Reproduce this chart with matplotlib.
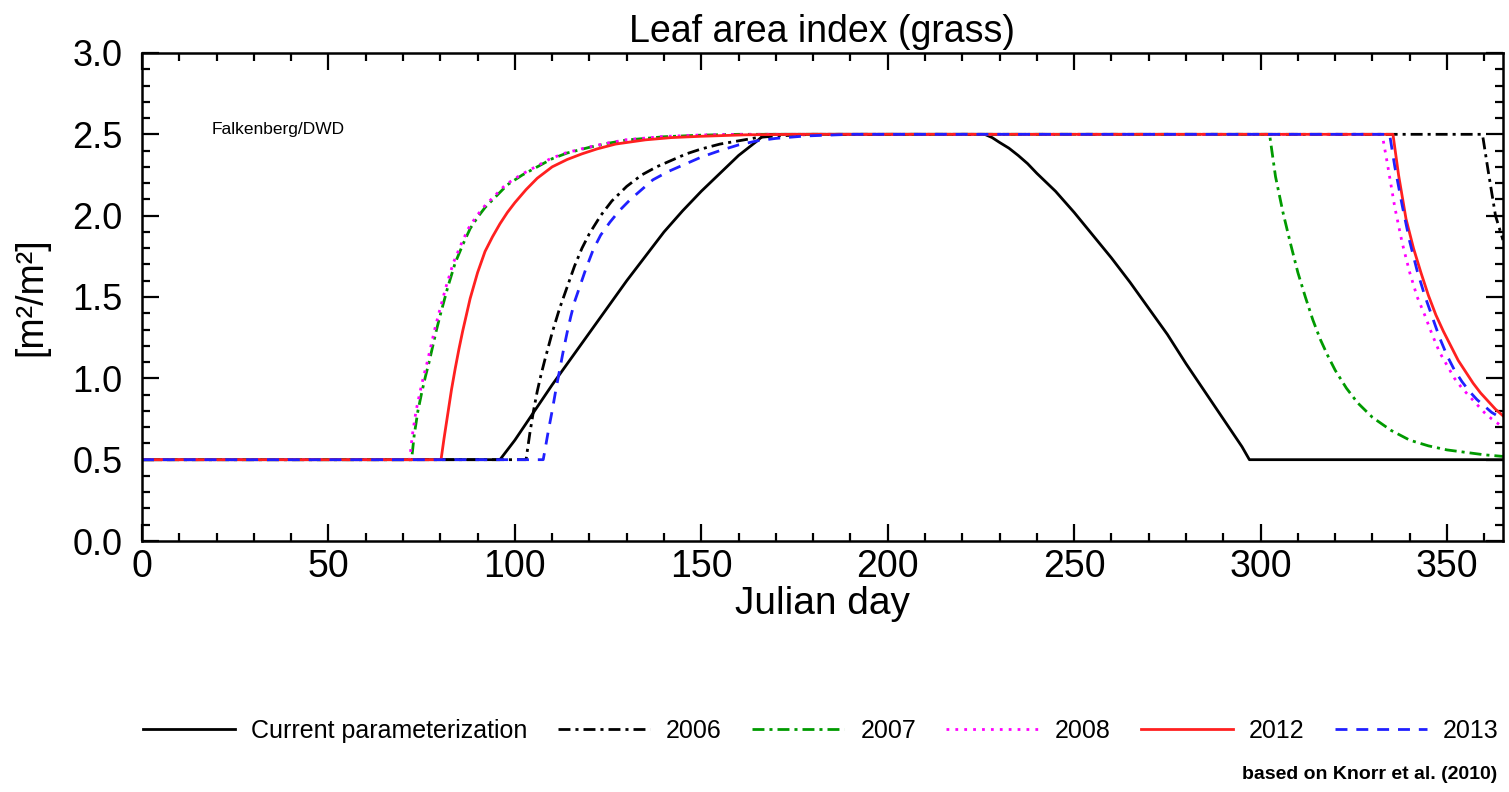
import matplotlib
matplotlib.use("Agg")
import matplotlib.pyplot as plt
from matplotlib.ticker import MultipleLocator

plt.rcParams['font.family'] = ['Liberation Sans', 'DejaVu Sans']

# Leaf area index readings (day of year, LAI)
current_day = [0, 96, 100, 105, 110, 115, 120, 125, 130, 135, 140, 145, 150, 155, 160, 165, 167,
               226, 228, 230, 232.5, 235, 237.5, 240, 245, 250, 255, 260, 265, 270, 275, 280, 285, 290, 295, 297, 365]
current_lai = [0.5, 0.5, 0.62, 0.79, 0.96, 1.12, 1.28, 1.44, 1.60, 1.75, 1.90, 2.03, 2.15, 2.26, 2.37, 2.46, 2.5,
               2.5, 2.48, 2.45, 2.415, 2.37, 2.32, 2.26, 2.15, 2.02, 1.88, 1.74, 1.59, 1.43, 1.27, 1.09, 0.92, 0.75, 0.58, 0.5, 0.5]

day_2006 = [0, 103, 104, 105, 106, 107, 108, 110, 112, 114, 116, 118, 120, 123, 126, 130, 134, 138, 142,
            146, 150, 155, 160, 165, 170, 180, 359.5, 361, 363, 365]
lai_2006 = [0.5, 0.5, 0.66, 0.80, 0.92, 1.02, 1.11, 1.28, 1.43, 1.56, 1.69, 1.80, 1.89, 2.00, 2.09, 2.18, 2.25, 2.30, 2.34,
            2.38, 2.41, 2.44, 2.46, 2.48, 2.49, 2.5, 2.5, 2.28, 2.0, 1.85]

day_2007 = [0, 72.3, 73, 74, 75, 76, 77, 78, 79, 80, 82, 84, 86, 88, 90, 92, 95, 98, 102, 106, 110, 114, 120, 125,
            130, 135, 140, 150, 160, 302.4, 304, 306, 308, 310, 312, 314, 316, 318, 320, 323, 326, 330, 335,
            340, 345, 350, 355, 360, 365]
lai_2007 = [0.5, 0.5, 0.65, 0.80, 0.91, 1.01, 1.10, 1.20, 1.30, 1.39, 1.56, 1.71, 1.82, 1.92, 1.99, 2.05, 2.12, 2.19, 2.25, 2.30, 2.35, 2.385, 2.42, 2.445,
            2.465, 2.475, 2.485, 2.495, 2.5, 2.5, 2.24, 2.02, 1.83, 1.65, 1.50, 1.36, 1.24, 1.14, 1.05, 0.94, 0.85, 0.76, 0.68,
            0.62, 0.585, 0.56, 0.545, 0.53, 0.52]

day_2008 = [0, 71.8, 72.5, 73.5, 74.5, 75.5, 76.5, 77.5, 78.5, 79.5, 81.5, 83.5, 85.5, 87.5, 89.5, 91.5, 94.5, 97.5,
            101.5, 105.5, 109.5, 113.5, 119.5, 124.5, 130, 135, 140, 150, 160, 332.6, 334, 336, 338, 340, 342,
            344, 346, 348, 350, 352, 354, 356, 358, 360, 362, 365]
lai_2008 = [0.5, 0.5, 0.65, 0.80, 0.91, 1.01, 1.10, 1.20, 1.30, 1.39, 1.56, 1.71, 1.82, 1.92, 1.99, 2.05, 2.12, 2.19,
            2.25, 2.30, 2.35, 2.385, 2.42, 2.445, 2.467, 2.477, 2.487, 2.496, 2.5, 2.5, 2.32, 2.05, 1.83, 1.65, 1.50,
            1.39, 1.27, 1.16, 1.08, 1.00, 0.94, 0.89, 0.84, 0.79, 0.75, 0.70]

day_2012 = [0, 80.2, 81, 82, 83, 84, 85, 86, 87, 88, 90, 92, 94, 96, 98, 100, 103, 106, 110, 114, 118, 122, 127,
            135, 142, 150, 162, 175, 335.5, 337, 339, 341, 343, 345, 347, 349, 351, 353, 355, 357, 359, 361, 363, 365]
lai_2012 = [0.5, 0.5, 0.63, 0.78, 0.93, 1.06, 1.18, 1.29, 1.39, 1.49, 1.65, 1.78, 1.87, 1.95, 2.02, 2.08, 2.16, 2.23, 2.30, 2.345, 2.38, 2.41, 2.44,
            2.466, 2.48, 2.488, 2.497, 2.5, 2.5, 2.25, 1.98, 1.80, 1.65, 1.51, 1.39, 1.29, 1.20, 1.11, 1.04, 0.97, 0.91, 0.86, 0.81, 0.77]

day_2013 = [0, 107.6, 108, 109, 110, 111, 112, 113, 114, 115, 116, 117.5, 119, 121, 123, 125.5, 128, 131, 134, 137,
            141, 145, 150, 155, 160, 165, 170, 178, 190, 334.6, 336, 338, 340, 342, 344, 346, 348, 350, 352, 354,
            356, 358, 360, 362, 365]
lai_2013 = [0.5, 0.5, 0.55, 0.68, 0.80, 0.93, 1.05, 1.17, 1.28, 1.38, 1.47, 1.57, 1.67, 1.79, 1.88, 1.96, 2.03, 2.10, 2.16, 2.22,
            2.27, 2.31, 2.36, 2.40, 2.435, 2.46, 2.475, 2.49, 2.5, 2.5, 2.30, 2.06, 1.84, 1.66, 1.51, 1.38, 1.25, 1.14, 1.05, 0.98,
            0.92, 0.87, 0.83, 0.79, 0.75]

fig = plt.figure(figsize=(15.09, 7.92), dpi=100)
ax = fig.add_axes([0.0941, 0.3169, 0.9019, 0.6162])

lw = 2.0
ax.plot(current_day, current_lai, color='black', lw=lw, label='Current parameterization')
ax.plot(day_2006, lai_2006, color='black', lw=lw, dashes=(4.3, 1.8, 1.1, 1.8), label='2006')
ax.plot(day_2007, lai_2007, color='#009a00', lw=lw, dashes=(4.3, 1.8, 1.1, 1.8), label='2007')
ax.plot(day_2008, lai_2008, color='#ff00ff', lw=lw, dashes=(1.0, 2.2), label='2008')
ax.plot(day_2012, lai_2012, color='#ff2020', lw=lw, label='2012')
ax.plot(day_2013, lai_2013, color='#2020ff', lw=lw, dashes=(4.3, 3.2), label='2013')

ax.set_xlim(0, 365)
ax.set_ylim(0, 3.0)
ax.xaxis.set_major_locator(MultipleLocator(50))
ax.xaxis.set_minor_locator(MultipleLocator(10))
ax.yaxis.set_major_locator(MultipleLocator(0.5))
ax.yaxis.set_minor_locator(MultipleLocator(0.1))
ax.yaxis.set_major_formatter(lambda v, p: f'{v:.1f}')
ax.tick_params(which='both', direction='in', top=True, right=True, width=1.6)
ax.tick_params(which='major', length=12)
ax.tick_params(which='minor', length=6)
ax.tick_params(axis='x', which='major', labelsize=27, pad=6)
ax.tick_params(axis='y', which='major', labelsize=26, pad=14)
for s in ax.spines.values():
    s.set_linewidth(1.8)

ax.set_title('Leaf area index (grass)', fontsize=27, pad=8)
ax.set_xlabel('Julian day', fontsize=28)
ax.xaxis.set_label_coords(0.5, -0.092)
ax.set_ylabel('[m²/m²]', fontsize=27)
ax.yaxis.set_label_coords(-0.068, 0.5)
ax.text(18.8, 2.50, 'Falkenberg/DWD', fontsize=12.5, va='baseline')

fig.legend(loc='center', bbox_to_anchor=(0.544, 0.077), ncol=6, frameon=False,
           fontsize=18, handlelength=3.7, handletextpad=0.64, columnspacing=1.2)
fig.text(0.992, 0.016, 'based on Knorr et al. (2010)', fontsize=14, fontweight='bold', ha='right')

fig.savefig('out.png', dpi=100)
